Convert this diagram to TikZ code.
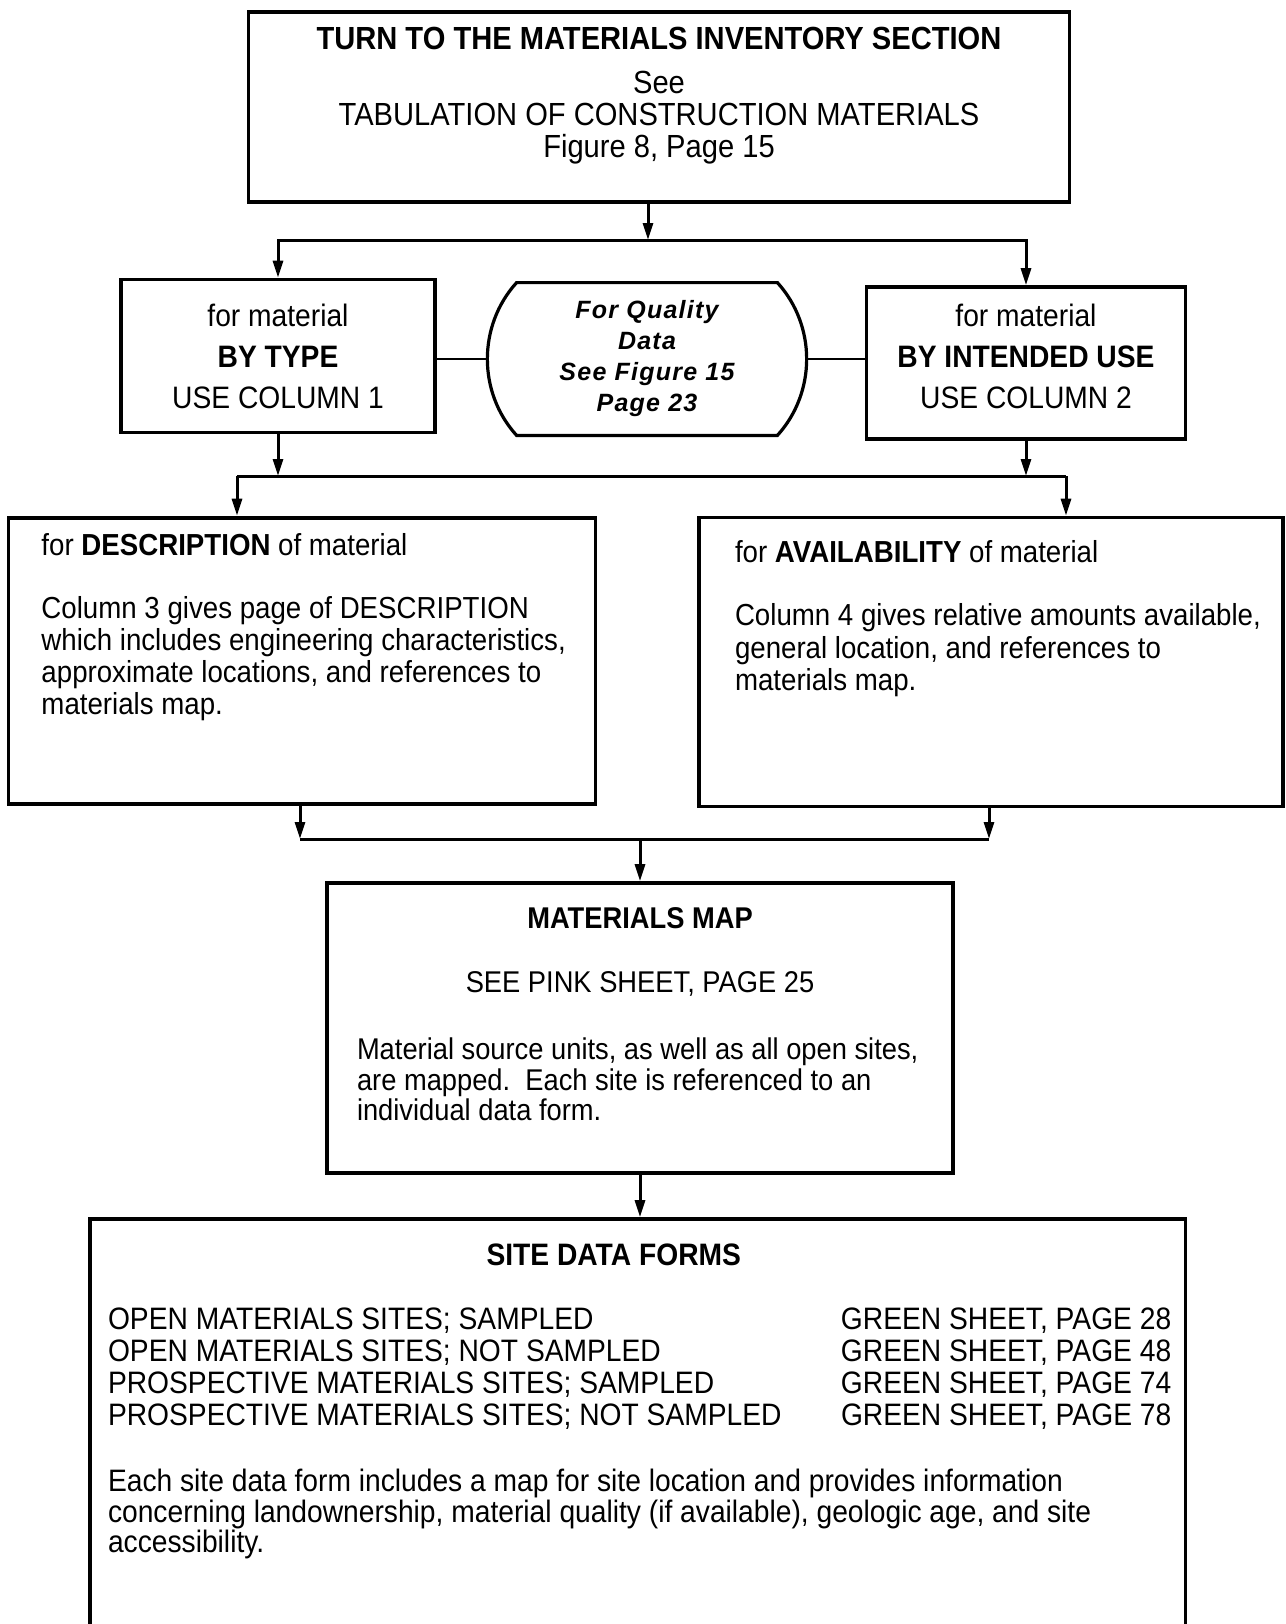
\documentclass[tikz,border=0pt]{standalone}
\usepackage{fontspec}
\setmainfont{Liberation Sans}[FakeStretch=0.91]
\newfontfamily\qualfont{Liberation Sans}[LetterSpace=5]
\usepackage{tikz}
\usetikzlibrary{arrows.meta,positioning,calc}

\tikzset{
  box/.style={draw, line width=1.9pt, inner sep=0pt},
  link/.style={line width=1.5pt},
  arr/.style={link, -{Triangle[length=8.5pt,width=5pt]}},
}

\begin{document}
\begin{tikzpicture}[x=0.5pt, y=-0.5pt]
    \useasboundingbox (0,0) rectangle (1286,1624);
    \clip (0,0) rectangle (1286,1624);
    % Inventory section
    \node[box] (top) at (659,107) {\parbox[c][94.75pt][t]{410.5pt}{\centering\fontsize{16}{16}\selectfont
      \vspace*{7.5pt}\textbf{TURN TO THE MATERIALS INVENTORY SECTION}\\[6pt]
      See\\ TABULATION OF CONSTRUCTION MATERIALS\\ Figure 8, Page 15}};
    % Second row
    \node[box, minimum width=157pt, minimum height=76.5pt, align=center,
      font=\fontsize{15.5}{20.5}\selectfont] (type) at (278,356)
      {for material\\ \textbf{BY TYPE}\\ USE COLUMN 1};
    \node[box] (use) at (1026,363) {\parbox[c][76pt][c]{159.5pt}{\centering
      \fontsize{15.5}{20.5}\selectfont
      for material\\ \textbf{BY INTENDED USE}\\ USE COLUMN 2\par\vspace{6.2pt}}};
    \node[inner sep=0pt, minimum width=159pt, minimum height=76pt, align=center,
      font=\qualfont\bfseries\itshape\fontsize{12.5}{15.5}\selectfont] (qual) at (647,359)
      {For Quality\\ Data\\ See Figure 15\\ Page 23};
    \draw[line width=1.6pt] ($(qual.north west)+(29,0)$) -- ($(qual.north east)+(-29,0)$)
      .. controls ($(qual.north east)+(10,43)$) and ($(qual.south east)+(10,-43)$) .. ($(qual.south east)+(-29,0)$)
      -- ($(qual.south west)+(29,0)$)
      .. controls ($(qual.south west)+(-10,-43)$) and ($(qual.north west)+(-10,43)$) .. cycle;
    % Third row
    \node[box] (desc) at (302,660.6) {\parbox[c][143pt][t]{293.5pt}{\raggedright\leftskip=16.5pt
      \fontsize{15.2}{16}\selectfont
      \vspace*{8pt}for \textbf{DESCRIPTION} of material\par\vspace{15.5pt}
      Column 3 gives page of DESCRIPTION\\ which includes engineering characteristics,\\
      approximate locations, and references to\\ materials map.}};
    \node[box] (avail) at (991,662) {\parbox[c][144.5pt][t]{292pt}{\raggedright\leftskip=18pt
      \fontsize{15.2}{16.25}\selectfont
      \vspace*{11.5pt}for \textbf{AVAILABILITY} of material\par\vspace{15.25pt}
      Column 4 gives relative amounts available,\\ general location, and references to\\
      materials map.}};
    % Map
    \node[box] (map) at (640,1028) {\parbox[c][145pt][t]{313pt}{\fontsize{15}{15.25}\selectfont
      \vspace*{12.4pt}{\centering\textbf{MATERIALS MAP}\\[16.5pt]
      SEE PINK SHEET, PAGE 25\par}\vspace{18.5pt}
      \raggedright\leftskip=15pt
      Material source units, as well as all open sites,\\ are mapped.\ \ Each site is referenced to an\\
      individual data form.}};
    % Site data forms
    \node[box] (site) at (637.75,1429.5) {\parbox[c][210.5pt][t]{547.75pt}{\fontsize{15.5}{15.85}\selectfont
      \vspace*{12.2pt}{\centering\hspace*{-24pt}\textbf{SITE DATA FORMS}\par}\vspace{16.6pt}
      \raggedright\leftskip=9pt
      \makebox[366.5pt][l]{OPEN MATERIALS SITES; SAMPLED}GREEN SHEET, PAGE 28\\
      \makebox[366.5pt][l]{OPEN MATERIALS SITES; NOT SAMPLED}GREEN SHEET, PAGE 48\\
      \makebox[366.5pt][l]{PROSPECTIVE MATERIALS SITES; SAMPLED}GREEN SHEET, PAGE 74\\
      \makebox[366.5pt][l]{PROSPECTIVE MATERIALS SITES; NOT SAMPLED}GREEN SHEET, PAGE 78\par
      \fontsize{15.5}{15.25}\selectfont\vspace{18pt}
      Each site data form includes a map for site location and provides information\\
      concerning landownership, material quality (if available), geologic age, and site\\
      accessibility.}};
    % Junctions
    \coordinate (j1) at (648,240);
    \coordinate (j2l) at (237,476);
    \coordinate (j2r) at (1066,476);
    \coordinate (j3l) at (300,839);
    \coordinate (j3r) at (989,839);
    % Connectors
    \draw[arr] (top.south -| j1) -- (j1);
    \draw[arr] (j1) -| (type.north);
    \draw[arr] (j1) -| (use.north);
    \draw[line width=1.2pt] (qual.west) -- (qual.west -| type.east);
    \draw[line width=1.2pt] (qual.east) -- (qual.east -| use.west);
    \draw[arr] (type.south) -- (type.south |- j2l);
    \draw[arr] (use.south) -- (use.south |- j2r);
    \draw[link] (j2l) -- (j2r);
    \draw[arr] (j2l) -- (j2l |- desc.north);
    \draw[arr] (j2r) -- (j2r |- avail.north);
    \draw[arr] (j3l |- desc.south) -- (j3l);
    \draw[arr] (j3r |- avail.south) -- (j3r);
    \draw[link] (j3l) -- (j3r);
    \draw[arr] (map.north |- j3l) -- (map.north);
    \draw[arr] (map.south) -- (map.south |- site.north);
\end{tikzpicture}
\end{document}
